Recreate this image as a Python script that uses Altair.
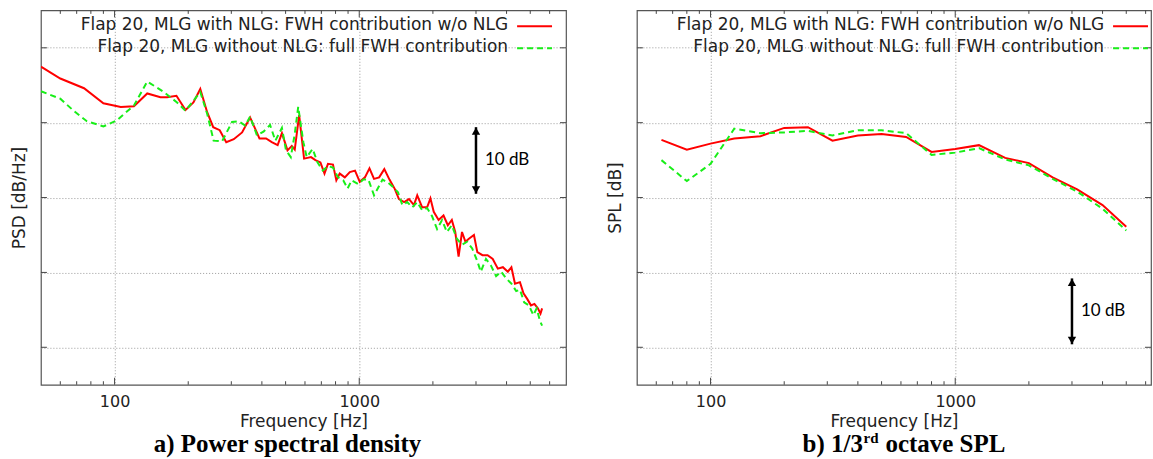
import altair as alt
import pandas as pd

# ---------------- data ----------------
# a) Power spectral density (arbitrary dB offset; grid every 10 dB)
psd_red_f = [50, 60, 75, 90, 106, 120, 136, 154, 164, 179, 195, 210, 224, 239, 253, 269, 286, 307, 332, 358,
             391, 416, 439, 464, 483, 509, 530, 545, 568, 595, 635, 662, 694, 721, 745, 781, 806, 832, 873, 915,
             961, 1005, 1055, 1101, 1149, 1206, 1266, 1329, 1395, 1453, 1526, 1597, 1673, 1726, 1808, 1894, 1954,
             2016, 2110, 2210, 2302, 2390, 2468, 2547, 2630, 2717, 2806, 2943, 3038, 3190, 3346, 3512, 3685, 3864,
             4050, 4187, 4330, 4538, 4691, 4850, 5034, 5200, 5370, 5505, 5590]
psd_red_v = [47.5, 45.9, 44.6, 42.6, 42.1, 42.2, 43.9, 43.4, 43.4, 43.6, 41.7, 42.7, 44.5, 41.4, 39.4, 39.0, 37.4,
             37.8, 38.7, 40.7, 37.9, 37.9, 37.4, 37.0, 38.6, 36.3, 36.9, 36.4, 41.0, 35.2, 35.4, 35.0, 34.7, 33.2,
             34.5, 34.4, 32.3, 33.2, 32.7, 33.4, 33.6, 32.1, 32.7, 33.9, 32.5, 32.7, 33.8, 32.4, 31.2, 29.8, 29.4,
             29.8, 29.0, 30.3, 28.7, 28.7, 29.9, 28.1, 27.0, 27.6, 26.3, 27.0, 25.4, 22.1, 25.4, 24.1, 24.5, 25.0,
             22.7, 22.3, 22.3, 21.8, 20.5, 20.7, 20.1, 20.7, 18.5, 18.7, 17.2, 16.5, 15.6, 15.8, 15.2, 14.5, 15.2]
psd_green_f = [50, 60, 68, 77, 90, 102, 120, 136, 159, 180, 195, 224, 239, 254, 275, 302, 321, 342, 358, 382,
               406, 432, 454, 483, 502, 525, 545, 563, 591, 610, 645, 675, 710, 745, 781, 819, 860, 896, 931, 990,
               1039, 1090, 1149, 1199, 1245, 1310, 1374, 1440, 1500, 1570, 1647, 1726, 1808, 1894, 1985, 2080,
               2180, 2280, 2390, 2505, 2630, 2760, 2895, 3038, 3138, 3295, 3456, 3625, 3800, 3985, 4187, 4380,
               4538, 4720, 4935, 5150, 5310, 5480, 5590]
psd_green_v = [44.2, 43.2, 41.6, 40.2, 39.5, 40.3, 42.3, 45.5, 44.1, 42.7, 41.6, 44.1, 41.2, 37.6, 37.5, 40.1,
               40.2, 39.6, 40.8, 38.3, 38.8, 39.7, 37.6, 39.3, 36.3, 35.4, 38.5, 42.1, 37.4, 35.4, 36.5, 34.7,
               33.6, 34.2, 34.0, 32.7, 32.3, 31.2, 32.3, 31.8, 32.4, 32.4, 30.3, 31.4, 32.4, 32.0, 31.4, 30.7,
               29.0, 29.4, 28.7, 29.4, 28.3, 28.6, 27.5, 25.8, 27.0, 25.4, 26.3, 24.5, 23.7, 24.1, 23.2, 21.5,
               20.1, 21.8, 20.9, 19.5, 20.1, 19.2, 18.5, 17.5, 17.7, 16.0, 15.6, 14.3, 15.2, 13.5, 12.9]

# b) 1/3rd octave SPL
band_f = [63, 80, 100, 125, 160, 200, 250, 315, 400, 500, 630, 800, 1000, 1250, 1600, 2000, 2500, 3150, 4000, 5000]
spl_red_v = [37.7, 36.4, 37.2, 37.9, 38.2, 39.3, 39.4, 37.6, 38.3, 38.5, 38.1, 36.1, 36.5, 37.0, 35.3, 34.6,
             32.7, 31.1, 29.0, 26.1]
spl_green_v = [35.0, 32.2, 34.5, 39.2, 38.6, 38.7, 38.9, 38.3, 39.0, 39.0, 38.6, 35.7, 36.0, 36.6, 35.1, 34.3,
               32.5, 30.8, 28.5, 25.6]

legend_red = "Flap 20, MLG with NLG: FWH contribution w/o NLG"
legend_green = "Flap 20, MLG without NLG: full FWH contribution"

grid_db = [10, 20, 30, 40, 50]
major_f = [100, 1000]
minor_f = [60, 70, 80, 90, 200, 300, 400, 500, 600, 700, 800, 900, 2000, 3000, 4000, 5000, 6000]
arrow_f = [3000]

RED = "#ff0000"
GREEN = "#18ee18"
SANS = "DejaVu Sans"
H = 375


def panel(red_f, red_v, green_f, green_v, xmax, width, ytitle, arrow_lo, arrow_hi, caption):
    xs = alt.Scale(type="log", domain=[50, xmax], nice=False)
    ys = alt.Scale(domain=[5, 55], nice=False, zero=False)
    ax_x = alt.Axis(
        values=major_f, format="d", grid=True, gridDash=[1, 2], gridColor="#9a9a9a", gridWidth=1,
        ticks=False, tickSize=0, domain=False, labelPadding=9, labelFont=SANS, labelFontSize=16,
        labelColor="#222", title="Frequency [Hz]", titleFont=SANS, titleFontSize=17,
        titleFontWeight="normal", titleColor="#222", titlePadding=4)
    ax_y = alt.Axis(
        values=grid_db, grid=True, gridDash=[1, 2], gridColor="#9a9a9a", gridWidth=1,
        labels=False, ticks=False, tickSize=0, domain=False, title=ytitle, titleFont=SANS,
        titleFontSize=17, titleFontWeight="normal", titleColor="#222", titlePadding=12)

    def X(field="f"):
        return alt.X(f"{field}:Q", scale=xs, axis=ax_x)

    def Y(field="v"):
        return alt.Y(f"{field}:Q", scale=ys, axis=ax_y)

    red = alt.Chart(pd.DataFrame({"f": red_f, "v": red_v})).mark_line(
        color=RED, strokeWidth=2, clip=True
    ).encode(x=X(), y=Y(), order="f:Q")
    green = alt.Chart(pd.DataFrame({"f": green_f, "v": green_v})).mark_line(
        color=GREEN, strokeWidth=2, strokeDash=[6, 4], clip=True
    ).encode(x=X(), y=Y(), order="f:Q")

    majors = pd.DataFrame({"f": [v for v in major_f if v < xmax]})
    minors = pd.DataFrame({"f": [v for v in minor_f if v < xmax]})
    grids = pd.DataFrame({"v": grid_db})
    tick_col = "#444"
    ticks = [
        alt.Chart(majors).mark_rule(color=tick_col).encode(x=X(), y=alt.value(H), y2=alt.value(H - 7)),
        alt.Chart(majors).mark_rule(color=tick_col).encode(x=X(), y=alt.value(0), y2=alt.value(7)),
        alt.Chart(minors).mark_rule(color=tick_col).encode(x=X(), y=alt.value(H), y2=alt.value(H - 3.5)),
        alt.Chart(minors).mark_rule(color=tick_col).encode(x=X(), y=alt.value(0), y2=alt.value(3.5)),
        alt.Chart(grids).mark_rule(color=tick_col).encode(y=Y(), x=alt.value(0), x2=alt.value(6)),
        alt.Chart(grids).mark_rule(color=tick_col).encode(y=Y(), x=alt.value(width), x2=alt.value(width - 6)),
    ]

    legend_txt = [
        alt.Chart(pd.DataFrame({"t": [legend_red]})).mark_text(
            align="right", baseline="middle", font=SANS, fontSize=17, color="#222"
        ).encode(x=alt.value(468), y=alt.value(15), text="t:N"),
        alt.Chart(pd.DataFrame({"t": [legend_green]})).mark_text(
            align="right", baseline="middle", font=SANS, fontSize=17, color="#222"
        ).encode(x=alt.value(468), y=alt.value(37), text="t:N"),
        alt.Chart(pd.DataFrame({"t": [legend_red]})).mark_rule(color=RED, strokeWidth=2).encode(
            x=alt.value(477), x2=alt.value(512), y=alt.value(16)),
        alt.Chart(pd.DataFrame({"t": [legend_green]})).mark_rule(
            color=GREEN, strokeWidth=2, strokeDash=[6, 4]).encode(
            x=alt.value(477), x2=alt.value(512), y=alt.value(38)),
    ]

    arr = pd.DataFrame({"f": arrow_f, "lo": [arrow_lo], "hi": [arrow_hi], "t": ["10 dB"]})
    arrow = [
        alt.Chart(arr).mark_rule(color="black", strokeWidth=2.5).encode(
            x=X(), y=Y("lo"), y2="hi:Q"),
        alt.Chart(arr).mark_point(shape="triangle-up", filled=True, color="black", size=70,
                                  opacity=1, yOffset=4).encode(x=X(), y=Y("hi")),
        alt.Chart(arr).mark_point(shape="triangle-down", filled=True, color="black", size=70,
                                  opacity=1, yOffset=-4).encode(x=X(), y=Y("lo")),
        alt.Chart(arr).mark_text(align="left", baseline="middle", font="Lato", fontSize=17,
                                 color="black", dx=9).encode(
            x=X(), y=Y("mid"), text="t:N"
        ).transform_calculate(mid="(datum.lo + datum.hi) / 2"),
    ]

    cap = []
    for txt, xpos, size, dy in caption:
        cap.append(
            alt.Chart(pd.DataFrame({"t": [txt]})).mark_text(
                align="left" if len(caption) > 1 else "center", baseline="alphabetic",
                font="Liberation Serif", fontWeight="bold", fontSize=size, color="black"
            ).encode(x=alt.value(xpos), y=alt.value(442 - dy), text="t:N")
        )

    return alt.layer(red, green, *ticks, *legend_txt, *arrow, *cap).properties(width=width, height=H)


left = panel(psd_red_f, psd_red_v, psd_green_f, psd_green_v, 7000, 526, "PSD [dB/Hz]", 30.5, 39.4,
             [("a) Power spectral density", 247, 25, 0)])
right = panel(band_f, spl_red_v, band_f, spl_green_v, 6311, 515, "SPL [dB]", 10.4, 19.2,
              [("b) 1/3", 166, 25, 0), ("rd", 227, 15, 9), ("octave SPL", 249, 25, 0)])

chart = alt.hconcat(left, right, spacing=71, bounds="flush").properties(
    padding={"left": 10, "top": 8, "right": 0, "bottom": 0}
).configure_view(stroke="#555", strokeWidth=1.2)

chart.save("out.html", embed_options={"renderer": "svg", "actions": False})
